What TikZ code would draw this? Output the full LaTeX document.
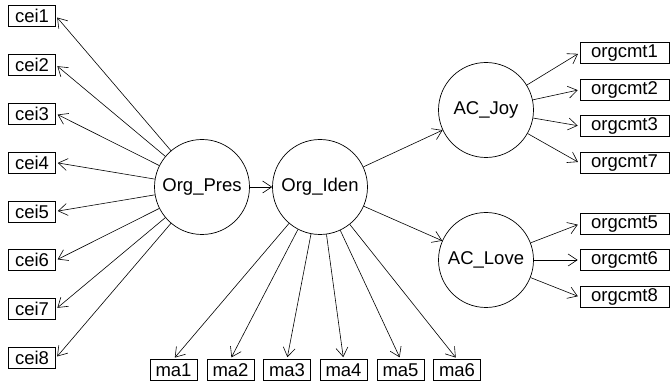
\documentclass[tikz,border=0pt]{standalone}
\usepackage{fontspec}
\setmainfont{Liberation Sans}
\usetikzlibrary{arrows.meta}
\begin{document}
\begin{tikzpicture}[x=1pt,y=1pt,
  every node/.style={font=\fontsize{18.5}{20}\selectfont},
  manifest/.style={draw, line width=0.7pt, rectangle, inner sep=0pt, minimum height=21pt, minimum width=47pt},
  widebox/.style={manifest, minimum width=89pt},
  latent/.style={draw, line width=0.7pt, circle, inner sep=0pt, minimum size=95pt},
  arr/.style={line width=0.6pt, -{Straight Barb[length=9pt,width=12pt,line width=0.6pt]}, shorten >=2pt}
]
\useasboundingbox (0,0) rectangle (671,387);
% latent
\node[latent] (OP) at (202,200) {Org\_Pres};
\node[latent] (OI) at (320,200) {Org\_Iden};
\node[latent] (AJ) at (486,277) {AC\_Joy};
\node[latent] (AL) at (486,127) {AC\_Love};
% cei
\node[manifest] (c1) at (32,371.0) {cei1};
\node[manifest] (c2) at (32,322.1) {cei2};
\node[manifest] (c3) at (32,273.3) {cei3};
\node[manifest] (c4) at (32,224.4) {cei4};
\node[manifest] (c5) at (32,175.6) {cei5};
\node[manifest] (c6) at (32,126.7) {cei6};
\node[manifest] (c7) at (32,77.9) {cei7};
\node[manifest] (c8) at (32,29.0) {cei8};
% ma
\node[manifest] (m1) at (173.5,17) {ma1};
\node[manifest] (m2) at (230.5,17) {ma2};
\node[manifest] (m3) at (287,17) {ma3};
\node[manifest] (m4) at (343.5,17) {ma4};
\node[manifest] (m5) at (400.5,17) {ma5};
\node[manifest] (m6) at (457,17) {ma6};
% orgcmt
\node[widebox] (o1) at (624.5,334.2) {orgcmt1};
\node[widebox] (o2) at (624.5,297.3) {orgcmt2};
\node[widebox] (o3) at (624.5,261) {orgcmt3};
\node[widebox] (o7) at (624.5,224) {orgcmt7};
\node[widebox] (o5) at (624.5,163) {orgcmt5};
\node[widebox] (o6) at (624.5,127) {orgcmt6};
\node[widebox] (o8) at (624.5,90) {orgcmt8};
% edges
\foreach \c in {c1,c2,c3,c4,c5,c6,c7,c8} \draw[arr] (OP) -- (\c.east);
\foreach \m in {m1,m2,m3,m4,m5,m6} \draw[arr] (OI) -- (\m.north);
\foreach \o in {o1,o2,o3,o7} \draw[arr] (AJ) -- (\o.west);
\foreach \o in {o5,o6,o8} \draw[arr] (AL) -- (\o.west);
\draw[arr, shorten >=0pt] (OP) -- (OI);
\draw[arr, shorten >=0pt] (OI) -- (AJ);
\draw[arr, shorten >=0pt] (OI) -- (AL);
\end{tikzpicture}
\end{document}
